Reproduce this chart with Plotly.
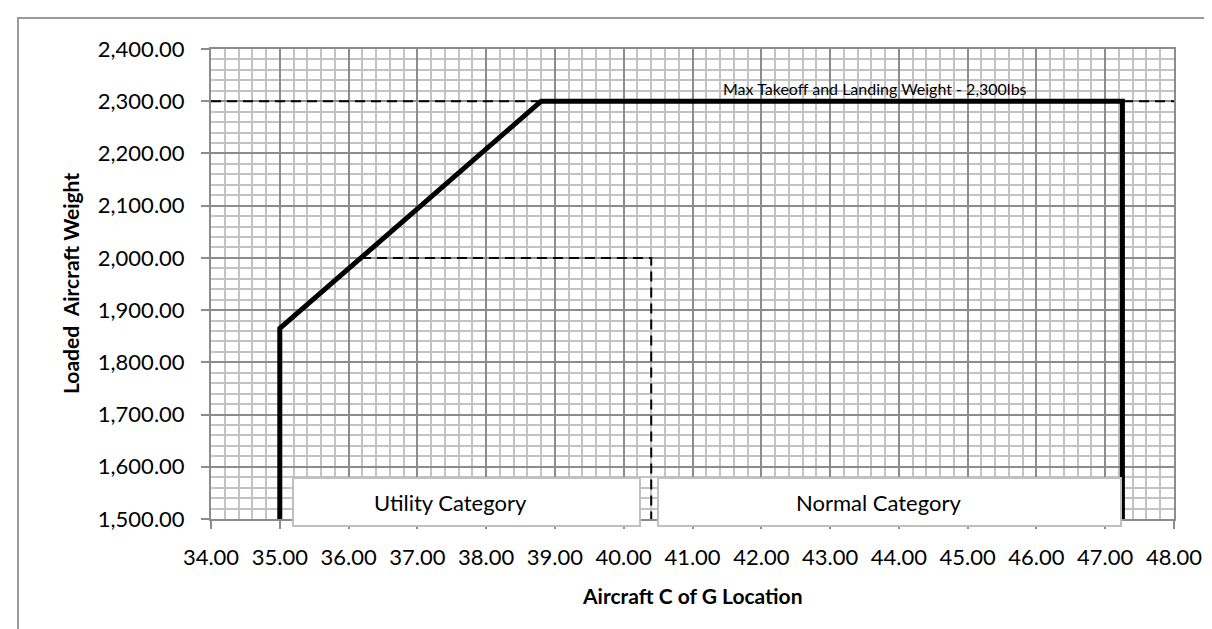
import plotly.graph_objects as go

# ---- data ----
envelope_cg = [35.0, 35.0, 38.8, 47.25, 47.25]
envelope_wt = [1500, 1865, 2300, 2300, 1500]
max_line_cg = [34.0, 48.0]
max_line_wt = [2300, 2300]
utility_cg = [36.18, 40.4, 40.4]
utility_wt = [2000, 2000, 1500]
x_ticks = [34, 35, 36, 37, 38, 39, 40, 41, 42, 43, 44, 45, 46, 47, 48]
y_ticks = [1500, 1600, 1700, 1800, 1900, 2000, 2100, 2200, 2300, 2400]
max_label = "Max Takeoff and Landing Weight - 2,300lbs"
cat_labels = ["Utility Category", "Normal Category"]

W, H = 1212, 629
L, R, T, B = 203, 1166, 41, 511

def px(x):
    return (x - L) / (R - L)

def py(y):
    return (B - y) / (B - T)

FONT = "Lato"
MAJ = "#8c8c8c"
MIN = "#c3c3c3"

fig = go.Figure()
fig.add_trace(go.Scatter(x=max_line_cg, y=max_line_wt, mode="lines",
                         line=dict(color="black", width=2, dash="10px,6px"),
                         showlegend=False, hoverinfo="skip"))
fig.add_trace(go.Scatter(x=utility_cg, y=utility_wt, mode="lines",
                         line=dict(color="black", width=2, dash="10px,6px"),
                         showlegend=False, hoverinfo="skip"))
fig.add_trace(go.Scatter(x=envelope_cg, y=envelope_wt, mode="lines",
                         line=dict(color="black", width=5),
                         showlegend=False, hoverinfo="skip"))

axis_common = dict(
    showline=True, linecolor=MAJ, linewidth=2, mirror=True,
    ticks="outside", ticklen=8, tickcolor=MAJ, tickwidth=2,
    showgrid=True, gridcolor=MAJ, gridwidth=2,
    zeroline=False,
    tickfont=dict(family=FONT, size=22, color="black"),
)

fig.update_xaxes(range=[34, 48], tickvals=x_ticks, tickformat=".2f",
                 minor=dict(dtick=0.2, showgrid=True, gridcolor=MIN, gridwidth=2, ticks=""),
                 ticklabelstandoff=10, **axis_common)
fig.update_yaxes(range=[1500, 2400], tickvals=y_ticks, tickformat=",.2f",
                 minor=dict(dtick=20, showgrid=True, gridcolor=MIN, gridwidth=2, ticks=""),
                 ticklabelstandoff=12, **axis_common)

shapes = [
    # outer frame
    dict(type="rect", xref="paper", yref="paper",
         x0=px(10), x1=px(1197), y0=py(640), y1=py(10),
         line=dict(color="#9a9a9a", width=2), fillcolor="rgba(0,0,0,0)", layer="below"),
    # category boxes
    dict(type="rect", xref="paper", yref="paper",
         x0=px(285), x1=px(632), y0=py(518), y1=py(470),
         line=dict(color="#c0c0c0", width=2), fillcolor="white", layer="above"),
    dict(type="rect", xref="paper", yref="paper",
         x0=px(650), x1=px(1113), y0=py(518), y1=py(470),
         line=dict(color="#c0c0c0", width=2), fillcolor="white", layer="above"),
]

annotations = [
    dict(text=max_label, x=43.65, y=2300, xref="x", yref="y",
         xanchor="center", yanchor="bottom", yshift=1, showarrow=False,
         font=dict(family=FONT, size=16, color="black")),
    dict(text=cat_labels[0], x=px(442), y=py(494), xref="paper", yref="paper",
         xanchor="center", yanchor="middle", showarrow=False,
         font=dict(family=FONT, size=22, color="black")),
    dict(text=cat_labels[1], x=px(870), y=py(494), xref="paper", yref="paper",
         xanchor="center", yanchor="middle", showarrow=False,
         font=dict(family=FONT, size=22, color="black")),
    dict(text="<b>Aircraft C of G Location</b>", x=px(684), y=py(587),
         xref="paper", yref="paper", xanchor="center", yanchor="middle",
         showarrow=False, font=dict(family=FONT, size=21, color="black")),
    dict(text="<b>Loaded  Aircraft Weight</b>", x=px(62), y=py(276),
         xref="paper", yref="paper", xanchor="center", yanchor="middle",
         textangle=-90, showarrow=False,
         font=dict(family=FONT, size=21, color="black")),
]

fig.update_layout(
    width=W, height=H,
    margin=dict(l=L, r=W - R, t=T, b=H - B, pad=0),
    paper_bgcolor="white", plot_bgcolor="white",
    shapes=shapes, annotations=annotations,
    font=dict(family=FONT, color="black"),
)

fig.write_html("out.html")
